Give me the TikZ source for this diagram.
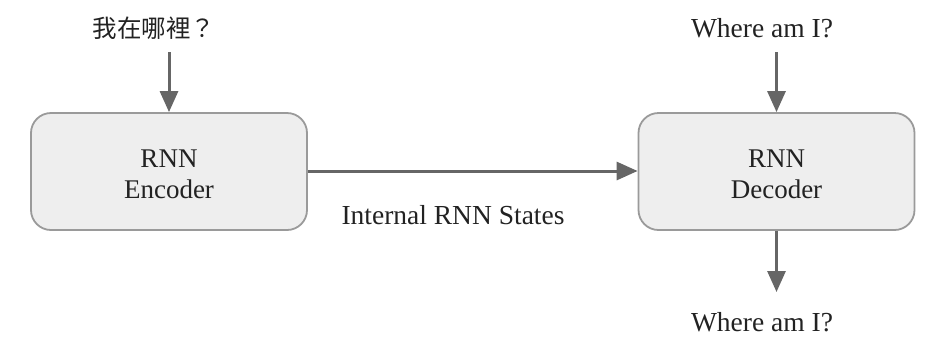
\documentclass[tikz,border=0pt]{standalone}
\usepackage{fontspec}
\setmainfont{Liberation Serif}
\newfontfamily\cjk{Noto Sans CJK TC}
\usetikzlibrary{arrows.meta}
\definecolor{linegray}{HTML}{666666}
\definecolor{boxedge}{HTML}{9A9A9A}
\definecolor{boxfill}{HTML}{EEEEEE}
\definecolor{txt}{HTML}{222222}
\newcommand{\twolines}[2]{\raisebox{-11.5pt}[0pt][0pt]{\begin{tabular}{@{}c@{}}#1\\[1.5pt]#2\end{tabular}}}
\begin{document}
\begin{tikzpicture}[x=1pt,y=-1pt,
  rnnbox/.style={draw=boxedge,fill=boxfill,line width=1.8pt,rounded corners=20pt,
    minimum width=276pt,minimum height=117pt,inner sep=0pt,
    font=\fontsize{27}{30}\selectfont,text=txt},
  lbl/.style={font=\fontsize{27.5}{30}\selectfont,text=txt,inner sep=0pt},
  conn/.style={draw=linegray,line width=3pt,-{Triangle[width=18pt,length=21pt]}}]
\useasboundingbox (0,0) rectangle (933,360);
\node[rnnbox] (enc) at (169,171.5) {\twolines{RNN}{Encoder}};
\node[rnnbox] (dec) at (776.5,171.5) {\twolines{RNN}{Decoder}};
\node[lbl,font=\cjk\fontsize{24.5}{28}\selectfont] (zh) at (154,28) {我在哪裡？};
\node[lbl] (in) at (762,28) {Where am I?};
\node[lbl] (out) at (762,322) {Where am I?};
\node[lbl] (st) at (453,215) {Internal RNN States};
\coordinate (zhs) at (169,52);
\coordinate (ins) at (776.5,52);
\coordinate (oute) at (776.5,292);
\draw[conn] (zhs) -- (enc.north);
\draw[conn] (ins) -- (dec.north);
\draw[conn] (dec.south) -- (oute);
\draw[conn] (enc.east |- 0,171) -- (dec.west |- 0,171);
\end{tikzpicture}
\end{document}
